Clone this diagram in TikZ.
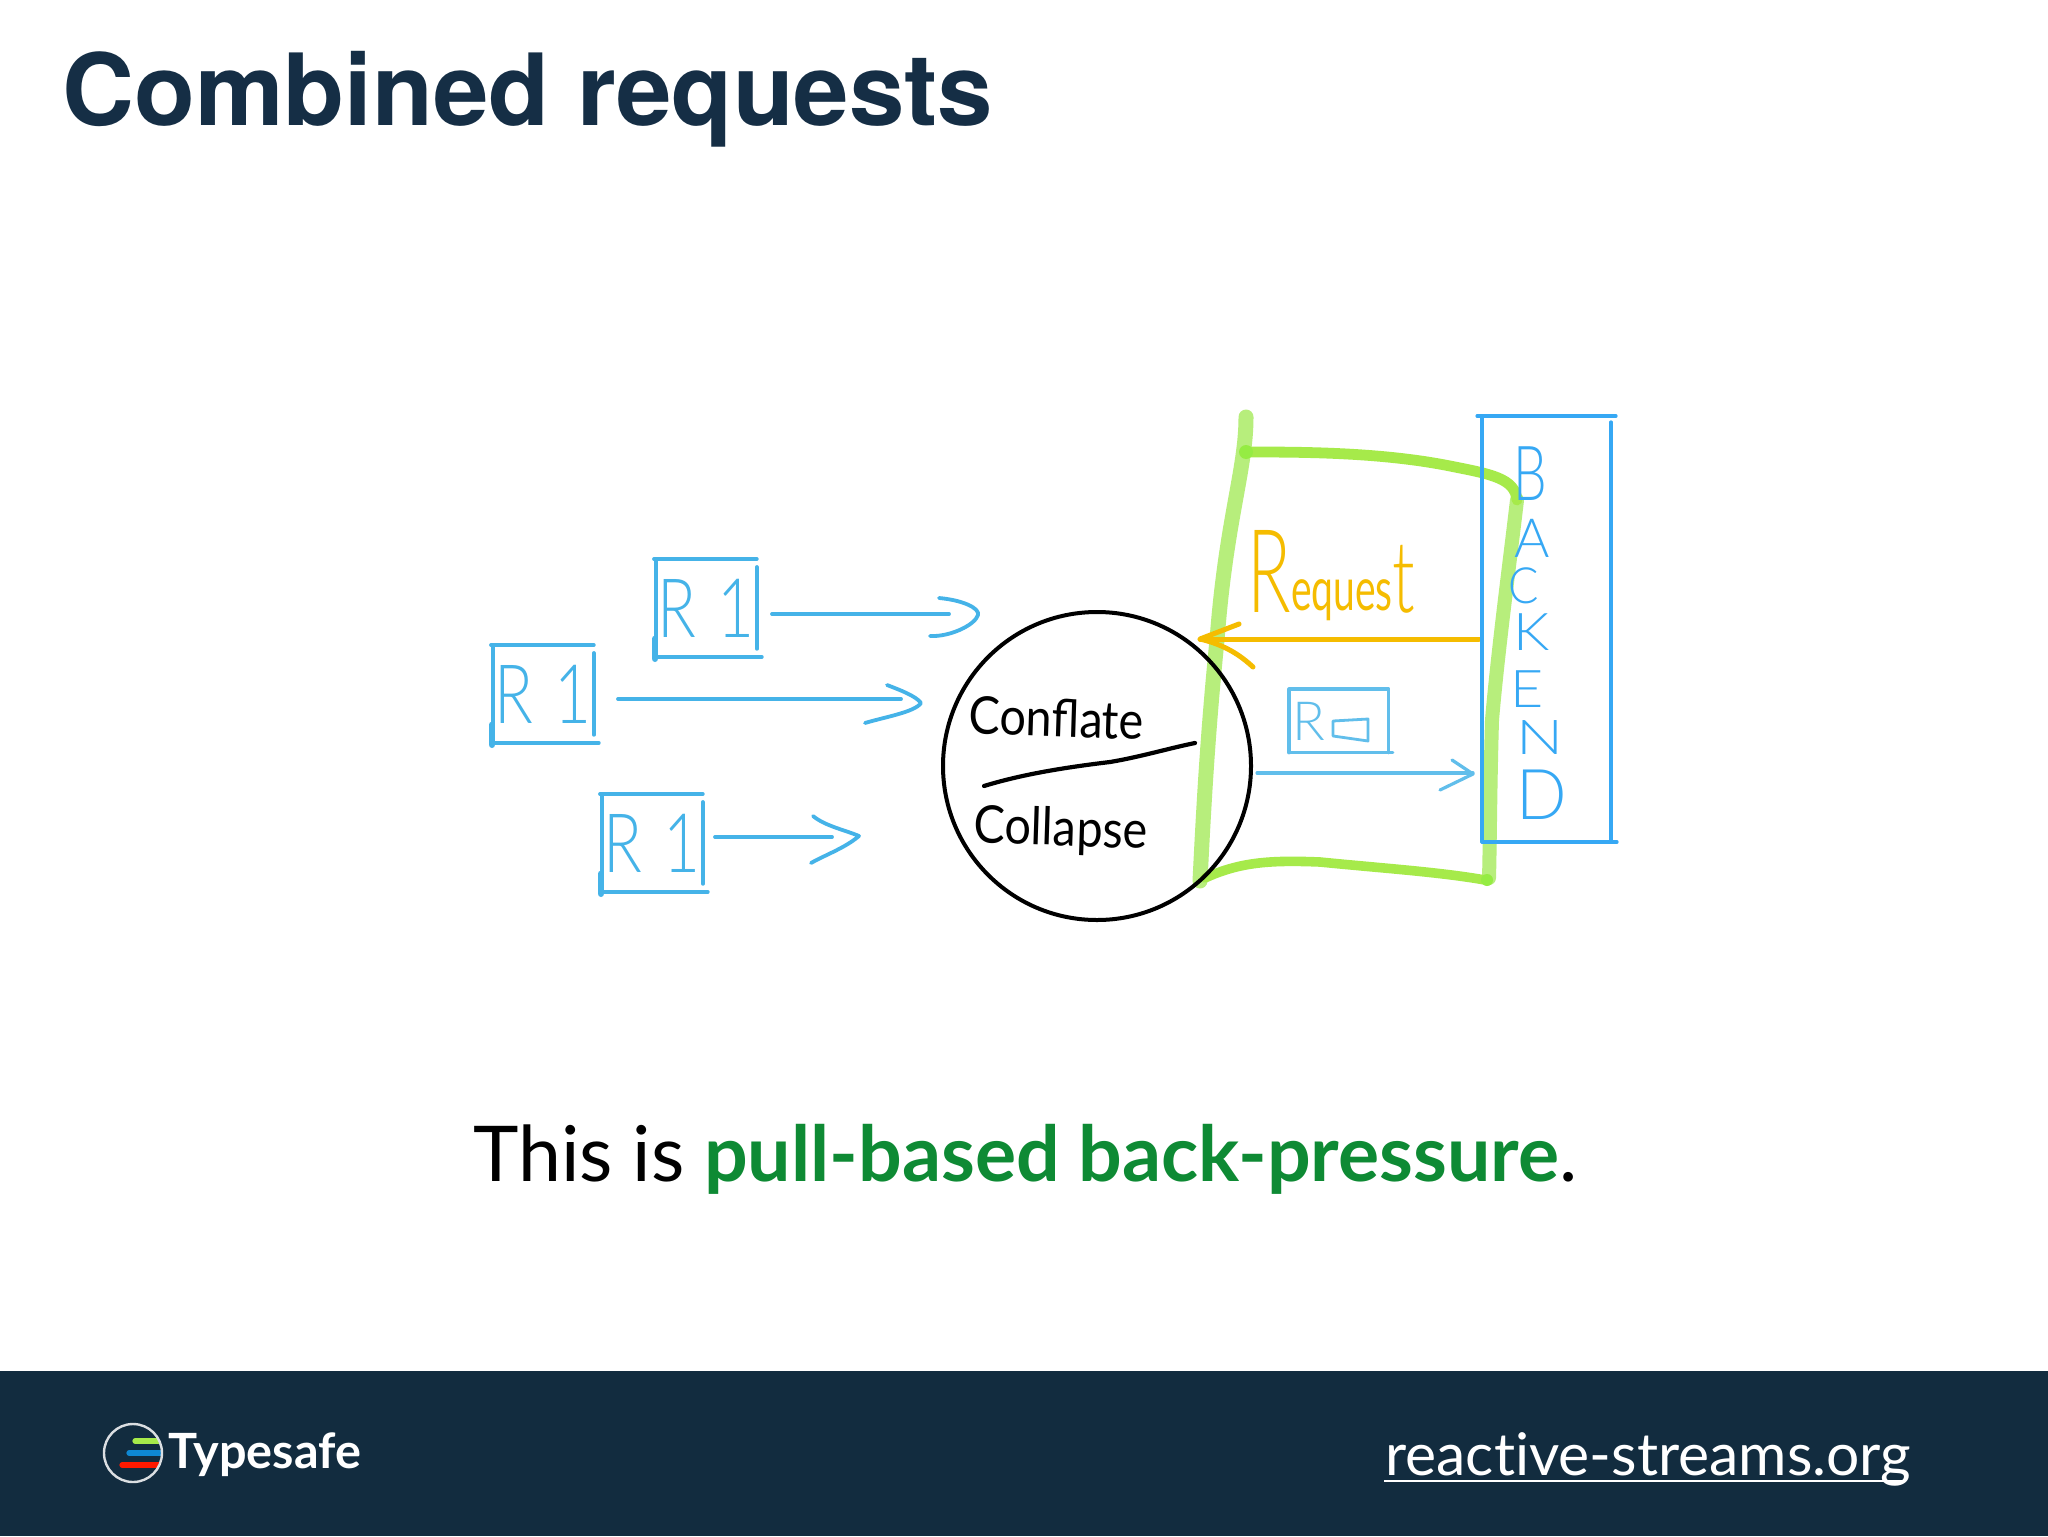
\documentclass[tikz,border=0pt]{standalone}
\usepackage{fontspec}
\setmainfont{Lato}
\newfontfamily\hand{Lato Light}
\newfontfamily\titlefont{TeX Gyre Heros}
\usetikzlibrary{calc}
\definecolor{navy}{HTML}{122C3F}
\definecolor{titleink}{HTML}{152E45}
\definecolor{skyline}{HTML}{45B3E8}
\definecolor{backblue}{HTML}{36A8F4}
\definecolor{leaf}{HTML}{B7EE7C}
\definecolor{leafdark}{HTML}{A6EA4A}
\definecolor{amber}{HTML}{F5BC00}
\definecolor{pullgreen}{HTML}{0E8A34}
\tikzset{
  sky/.style={draw=skyline,line width=1.9pt,line cap=round,line join=round},
  backline/.style={draw=backblue,line width=1.6pt,line cap=round},
  greenstroke/.style={draw=leaf,line width=7.5pt,line cap=round,line join=round},
  greentop/.style={draw=leafdark,line width=5.4pt,line cap=round,line join=round},
  handtext/.style={inner sep=0pt,transform shape},
  boxhole/.style={inner sep=0pt,minimum width=100pt*0.5,minimum height=97pt*0.5},
  ambline/.style={draw=amber,line width=2.5pt,line cap=round,line join=round},
  paleblue/.style={draw=skyline!85!white,line width=1.6pt,line cap=round,line join=round},
}
\newcommand{\fsz}[1]{\fontsize{#1}{#1}\selectfont}
\newcommand{\requestbox}[3]{%
  \node[boxhole,anchor=north west,text=skyline,font=\hand\fsz{41}] (#1) at (#2,#3)
    {\scalebox{.78}[1]{R\,\,1}};
  \draw[sky] (#1.north west) ++(-2,0) -- (#1.north east);
  \draw[sky] (#1.north west) -- (#1.south west);
  \draw[sky] ($(#1.north east)+(0,8)$) -- ($(#1.south east)+(0,-8)$);
  \draw[sky] (#1.south west) -- ($(#1.south east)+(5,0)$);
  \draw[sky,line width=3.2pt] ($(#1.south west)+(-1,-18)$) -- ($(#1.south west)+(-1,2)$);
}
\begin{document}
\begin{tikzpicture}[x=0.5pt,y=-0.5pt]
\useasboundingbox (0,0) rectangle (2048,1536);
\fill[white] (0,0) rectangle (2048,1536);
\fill[navy] (0,1371) rectangle (2048,1536);

\node[anchor=base west,inner sep=0pt,text=titleink,font=\titlefont\bfseries\fsz{49.8}] (title) at (62,126) {Combined requests};

% green zone
\draw[greenstroke] (1246,417) .. controls (1246,470) and (1226,520) .. (1217,640)
   .. controls (1208,730) and (1204,800) .. (1200,881);
\draw[greenstroke,line width=7pt] (1517,500)
   .. controls (1510,560) and (1498,650) .. (1492,720)
   .. controls (1490,790) and (1490,840) .. (1489,878);
\draw[greentop]
   (1246,452) .. controls (1300,452) and (1380,452) .. (1450,466)
   .. controls (1490,474) and (1515,478) .. (1517,500);
\draw[greentop,line width=4.8pt] (1205,878)
   .. controls (1240,862) and (1270,860) .. (1320,862)
   .. controls (1380,868) and (1440,872) .. (1485,880);
\fill[leafdark!90!green] (1246,452) circle[radius=7];
\fill[leafdark!90!green] (1487,880) circle[radius=6];

% requests
\requestbox{ra}{656}{559}
\requestbox{rb}{493}{645}
\requestbox{rc}{602}{794}
\coordinate (as) at (772,614); \coordinate (ae) at (949,614);
\coordinate (bs) at (618,699); \coordinate (be) at (901,699);
\coordinate (cs) at (715,837); \coordinate (ce) at (832,837);
\draw[sky] (as) -- (ae);
\draw[sky] (bs) -- (be);
\draw[sky] (cs) -- (ce);
\draw[sky] (939,598) .. controls (962,600) and (980,608) .. (978,615) .. controls (975,625) and (950,637) .. (930,636);
\draw[sky] (887,685) .. controls (900,690) and (916,696) .. (921,703) .. controls (915,712) and (885,717) .. (865,723);
\draw[sky] (813,816) .. controls (825,826) and (845,830) .. (859,836) .. controls (845,848) and (825,855) .. (811,863);

% circle
\node[draw=black,line width=2pt,circle,minimum size=154pt,inner sep=0pt] (conflate) at (1097,766) {};
\draw[black,line width=2.1pt,line cap=round] (984,786) .. controls (1020,775) and (1060,768) .. (1110,762) .. controls (1140,757) and (1170,748) .. (1195,743);
\node[handtext,anchor=base west,text=black,font=\fsz{26},xscale=.9,rotate=-2] (conf) at (968,733) {Conflate};
\node[handtext,anchor=base west,text=black,font=\fsz{26},xscale=.9,rotate=-2] (coll) at (973,842) {Collapse};

% request label and arrow
\node[handtext,anchor=base west,text=amber,font=\hand] (reqtext) at (1247,612)
  {\fsz{58}\scalebox{.62}[1]{R}\raisebox{1pt}{\normalfont\fsz{30}\scalebox{.65}[1]{eques}}\raisebox{0pt}{\fsz{50}\scalebox{.66}[1]{t}}};
\coordinate (ys) at (1479,639); \coordinate (ye) at (1200,639);
\draw[ambline] (ys) -- (ye);
\draw[ambline] (1239,624) -- (ye) .. controls (1225,645) and (1240,655) .. (1253,667);

% small response
\node[inner sep=0pt,minimum width=49.5pt,minimum height=31.5pt,anchor=north west] (rbox) at (1289,689) {};
\draw[paleblue] (rbox.south west) -- (rbox.north west) -- (rbox.north east) -- (rbox.south east);
\draw[paleblue] (rbox.south west) -- ($(rbox.south east)+(4,0)$);
\node[handtext,anchor=base,text=skyline!85!white,font=\hand\fsz{27}] (rr) at (1309,740) {R};
\draw[paleblue,line width=1.4pt] (1333,721) -- (1368,719) -- (1368,741) -- (1333,736) -- cycle;
\coordinate (ds) at (1257,773); \coordinate (de) at (1473,773);
\draw[paleblue] (ds) -- (de);
\draw[paleblue] (1452,760) -- (1473,774) -- (1440,790);

% backend
\coordinate (bnw) at (1482,416); \coordinate (bne) at (1611,416);
\coordinate (bsw) at (1482,842); \coordinate (bse) at (1611,842);
\draw[backline] ($(bnw)+(-5,0)$) -- ($(bne)+(5,0)$);
\draw[backline] (bnw) -- (bsw);
\draw[backline] ($(bne)+(0,6)$) -- (bse);
\draw[backline] (bsw) -- ($(bse)+(6,0)$);
\foreach \nm/\lt/\px/\py/\sz/\xs in {lb/B/1530/500/38/.7,la/A/1532/557/27/1,lc/C/1524/603/25/.9,lk/K/1532/650/26/1.1,le/E/1527/707/26/1.1,ln/N/1540/754/24/1.3,ld/D/1542/819/35/.95}{
  \node[handtext,anchor=base,text=backblue,font=\hand\fsz{\sz},xscale=\xs] (\nm) at (\px,\py) {\lt};
}

% caption
\node[anchor=base west,inner sep=0pt,font=\fsz{38.5}] (cap) at (473,1181)
  {This is {\color{pullgreen}\bfseries pull-based back-pressure}.};

% footer
\node[inner sep=0pt] (logo) at (133,1453) {};
\begin{scope}
\clip (133,1453) circle[radius=28.5];
\draw[draw=leafdark,line width=2.6pt,line cap=round] (135,1441) -- (170,1441);
\draw[draw=cyan!70!blue,line width=2.6pt,line cap=round] (129,1453) -- (170,1453);
\draw[draw=red!80!orange,line width=2.6pt,line cap=round] (122,1465) -- (170,1465);
\end{scope}
\draw[draw=white!85!navy,line width=1.2pt] (133,1453) circle[radius=29];
\node[anchor=base west,inner sep=0pt,text=white,font=\bfseries\fsz{24.3}] (brand) at (168,1468) {Typesafe};
\node[anchor=base west,inner sep=0pt,text=white,font=\fsz{29.4}] (site) at (1385,1475) {reac\kern0pt t\kern0pt ive-streams.org};
\draw[white,line width=1.3pt] ($(site.base west)+(-1,6)$) -- ($(site.base east)+(-8,6)$);
\end{tikzpicture}
\end{document}
